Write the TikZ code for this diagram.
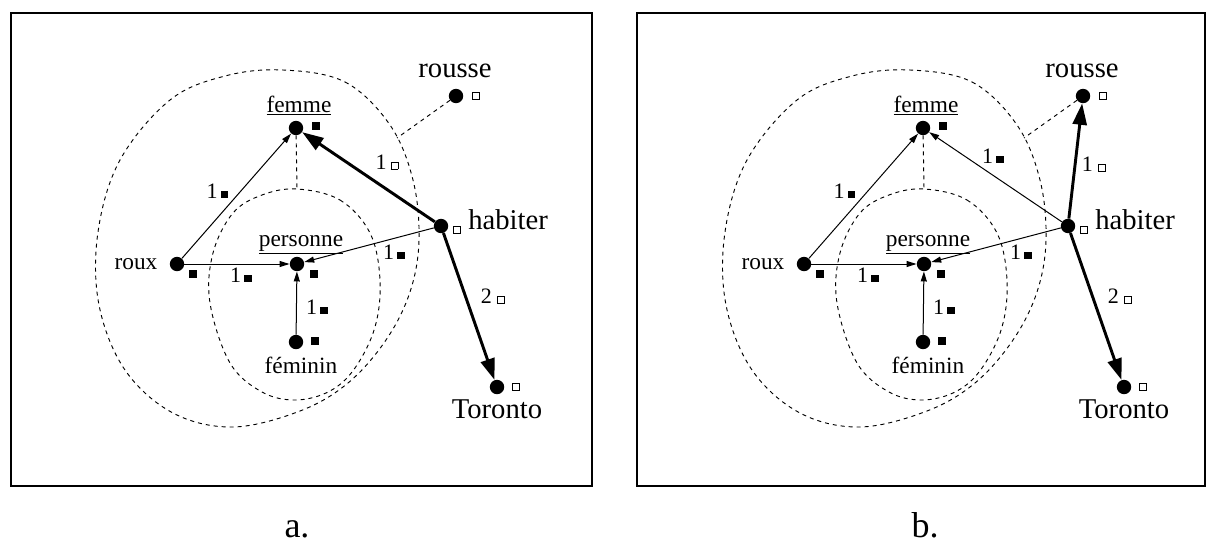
\documentclass[tikz,border=0pt]{standalone}
\usepackage{fontspec}
\setmainfont{Liberation Serif}
\usetikzlibrary{arrows.meta}
\newcommand\fsq{\rule{5.6pt}{5.6pt}}
\newcommand\hsq{{\setlength\fboxsep{0pt}\setlength\fboxrule{0.6pt}\fbox{\rule{0pt}{4.6pt}\rule{4.6pt}{0pt}}}}
\tikzset{
  dot/.style={circle, fill=black, inner sep=0pt, minimum size=10.8pt},
  fbox/.style={rectangle, fill=black, inner sep=0pt, minimum size=5.6pt},
  hbox/.style={rectangle, draw=black, line width=0.6pt, inner sep=0pt, minimum size=5.2pt},
  bigtxt/.style={font=\fontsize{21.5}{24}\selectfont, inner sep=0pt},
  smalltxt/.style={font=\fontsize{17.5}{20}\selectfont, inner sep=0pt},
  numtxt/.style={font=\fontsize{16.5}{19}\selectfont, inner sep=0pt, anchor=base},
  captxt/.style={font=\fontsize{27}{30}\selectfont, inner sep=0pt, anchor=base},
  thinarrow/.style={line width=0.75pt, -{Triangle[length=7.5pt,width=4.5pt]}},
  thickarrow/.style={line width=2.2pt, -{Triangle[length=16pt,width=10.5pt]}},
  dashline/.style={line width=0.7pt, dash pattern=on 3pt off 3pt},
  framebox/.style={line width=1.5pt},
}
% common content of one panel, #1 = name prefix
\newcommand\panelbase[1]{%
  \draw[dashline] plot[smooth cycle, tension=0.6] coordinates {
    (283,70) (345,82) (390,125) (413,180) (419,240) (410,292) (386,340)
    (348,383) (300,411) (233,427) (173,413) (125,370) (99,305) (98,232)
    (120,160) (170,100) (225,76)};
  \draw[dashline] plot[smooth cycle, tension=0.6] coordinates {
    (297,189) (340,200) (370,233) (380,280) (375,327) (355,368) (330,391)
    (296,400) (262,392) (230,363) (210,303) (213,253) (233,213) (262,195)};
  % dots
  \node[dot] (#1femme) at (296,128) {};
  \node[dot] (#1rousse) at (456,96) {};
  \node[dot] (#1habiter) at (441,226) {};
  \node[dot] (#1personne) at (297,264) {};
  \node[dot] (#1roux) at (177,264) {};
  \node[dot] (#1feminin) at (296,342) {};
  \node[dot] (#1toronto) at (497,387) {};
  % squares beside dots
  \node[fbox] (#1femmesq) at (316,126) {};
  \node[hbox] (#1roussesq) at (476,96) {};
  \node[hbox] (#1habitersq) at (457,230) {};
  \node[fbox] (#1personnesq) at (314,274) {};
  \node[fbox] (#1rouxsq) at (193,274) {};
  \node[fbox] (#1femininsq) at (315,341) {};
  \node[hbox] (#1torontosq) at (516,387) {};
  % names
  \node[smalltxt, anchor=base] (#1femmelab) at (299,112) {\underline{femme}};
  \node[bigtxt, anchor=base] (#1rousselab) at (455,77) {rousse};
  \node[bigtxt, anchor=base west] (#1habiterlab) at (468,229) {habiter};
  \node[smalltxt, anchor=base] (#1personnelab) at (301,246) {\underline{personne}};
  \node[smalltxt, anchor=base] (#1rouxlab) at (136,269) {roux};
  \node[smalltxt, anchor=base] (#1femininlab) at (301,373) {féminin};
  \node[bigtxt, anchor=base] (#1torontolab) at (497,418) {Toronto};
  % dashed links
  \coordinate (#1fdash) at (297,189);
  \coordinate (#1rdash) at (397,138);
  \draw[dashline] (#1femme) -- (#1fdash);
  \draw[dashline] (#1rousse) -- (#1rdash);
  % common arrows
  \draw[thinarrow] (#1roux) -- (#1femme);
  \draw[thinarrow] (#1roux) -- (#1personne);
  \draw[thinarrow] (#1feminin) -- (#1personne);
  \draw[thinarrow] (#1habiter) -- (#1personne);
  \draw[thickarrow] (#1habiter) -- (#1toronto);
  % common edge labels
  \node[numtxt] (#1l1) at (217.5,198) {1\kern2.5pt\fsq};
  \node[numtxt] (#1l2) at (241,282) {1\kern2.5pt\fsq};
  \node[numtxt] (#1l3) at (317,314) {1\kern2.5pt\fsq};
  \node[numtxt] (#1l4) at (394,259) {1\kern2.5pt\fsq};
  \node[numtxt] (#1l5) at (493,303) {2\kern4pt\hsq};
}
\begin{document}
\begin{tikzpicture}[x=0.75pt, y=-0.75pt]
\useasboundingbox (0,0) rectangle (1207,543);
% panel a
\draw[framebox] (10.7,12.7) rectangle (592,486);
\panelbase{a}
\draw[thickarrow] (ahabiter) -- (afemme);
\node[numtxt] (al6) at (387,169) {1\kern3pt\hsq};
\node[captxt] (acap) at (297,537) {a.};
% panel b
\draw[framebox] (637,12.7) rectangle (1204.5,486);
\begin{scope}[xshift=470.25pt]
\panelbase{b}
\draw[thinarrow] (bhabiter) -- (bfemme);
\draw[thickarrow] (bhabiter) -- (brousse);
\node[numtxt] (bl6) at (366,163) {1\kern2.5pt\fsq};
\node[numtxt] (bl7) at (467,171) {1\kern4pt\hsq};
\node[captxt] (bcap) at (298,537) {b.};
\end{scope}
\end{tikzpicture}
\end{document}
